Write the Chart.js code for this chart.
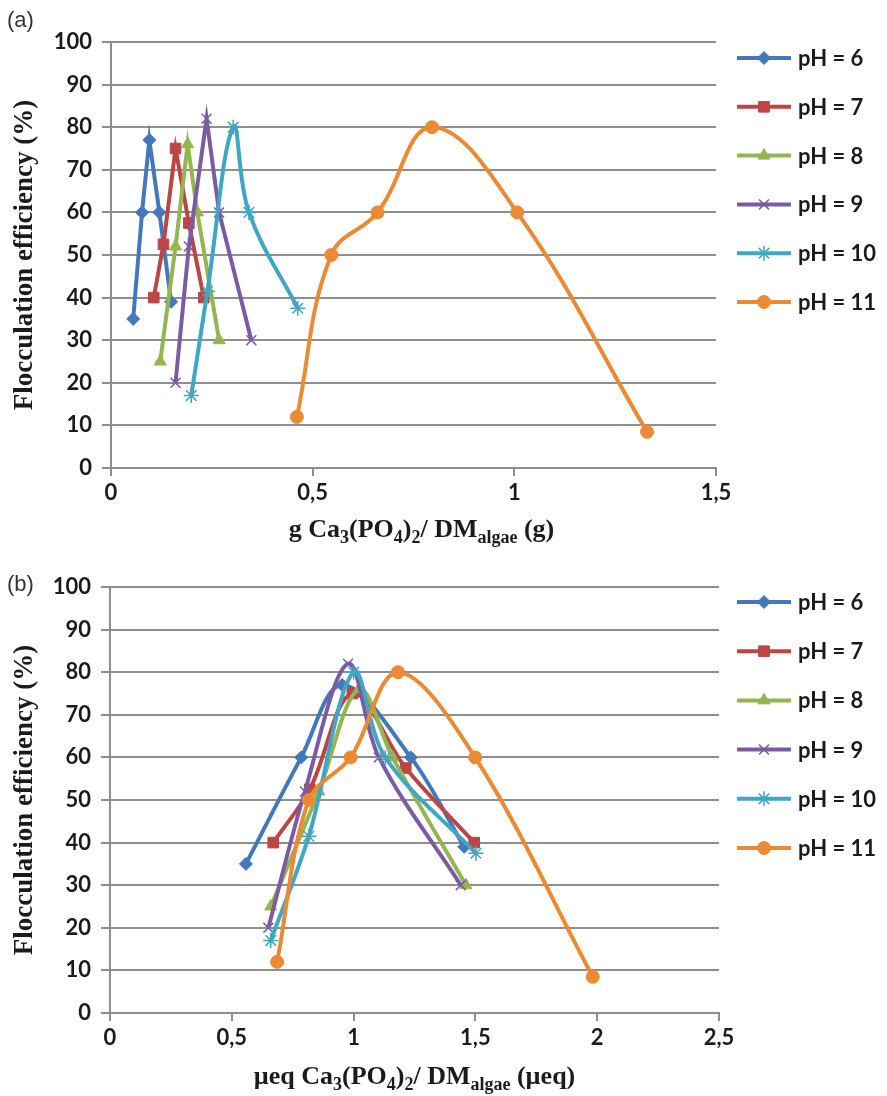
<!DOCTYPE html>
<html>
<head>
<meta charset="utf-8">
<title>Flocculation efficiency vs Ca3(PO4)2 dose</title>
<script src="https://cdn.jsdelivr.net/npm/chart.js@4.4.1/dist/chart.umd.min.js"></script>
<style>
  body { margin: 0; background: #fff; }
  .panel { position: absolute; left: 0; }
  #panelA { top: 0; }
  #panelB { top: 550px; }
</style>
</head>
<body>
<div class="panel" id="panelA"><canvas id="chartA" width="887" height="550"></canvas></div>
<div class="panel" id="panelB"><canvas id="chartB" width="887" height="546"></canvas></div>
<script>
// series names
const phLabels = ['pH = 6', 'pH = 7', 'pH = 8', 'pH = 9', 'pH = 10', 'pH = 11'];

// flocculation efficiency (%), same for both panels
const eff6 = [35, 60, 77, 60, 39];
const eff7 = [40, 52.5, 75, 57.5, 40];
const eff8 = [25, 52, 76, 60, 30];
const eff9 = [20, 52, 82, 60, 30];
const eff10 = [17, 41.5, 80, 60, 37.5];
const eff11 = [12, 50, 60, 80, 60, 8.5];

// panel (a): g Ca3(PO4)2 / g DM algae
const doseG6 = [0.055, 0.077, 0.095, 0.120, 0.149];
const doseG7 = [0.106, 0.130, 0.160, 0.193, 0.230];
const doseG8 = [0.122, 0.160, 0.190, 0.214, 0.268];
const doseG9 = [0.160, 0.193, 0.237, 0.268, 0.348];
const doseG10 = [0.199, 0.239, 0.303, 0.342, 0.463];
const doseG11 = [0.461, 0.546, 0.661, 0.796, 1.007, 1.329];

// panel (b): µeq Ca3(PO4)2 / µeq DM algae
const doseM6 = [0.558, 0.785, 0.953, 1.235, 1.454];
const doseM7 = [0.670, 0.820, 0.995, 1.214, 1.495];
const doseM8 = [0.660, 0.857, 1.022, 1.160, 1.461];
const doseM9 = [0.650, 0.800, 0.977, 1.104, 1.440];
const doseM10 = [0.660, 0.816, 1.000, 1.130, 1.502];
const doseM11 = [0.686, 0.816, 0.988, 1.182, 1.499, 1.982];

// axis ticks
const yTicks = [0, 10, 20, 30, 40, 50, 60, 70, 80, 90, 100];
const xTicksA = [0, 0.5, 1, 1.5];
const xTicksB = [0, 0.5, 1, 1.5, 2, 2.5];

// x axis titles, split into normal / subscript runs
const xTitleA = [['g Ca', 0], ['3', 1], ['(PO', 0], ['4', 1], [')', 0], ['2', 1], ['/ DM', 0], ['algae', 1], [' (g)', 0]];
const xTitleB = [['\u00b5eq Ca', 0], ['3', 1], ['(PO', 0], ['4', 1], [')', 0], ['2', 1], ['/ DM', 0], ['algae', 1], [' (\u00b5eq)', 0]];

const styles = [
  { color: '#4278BC', pointStyle: 'rectRot', radius: 6.5, bw: 1 },
  { color: '#BD4542', pointStyle: 'rect', radius: 7.5, bw: 1 },
  { color: '#93B650', pointStyle: 'triangle', radius: 7, bw: 1 },
  { color: '#7B5CA3', pointStyle: 'crossRot', radius: 7, bw: 1.5 },
  { color: '#3FA6C3', pointStyle: 'star', radius: 7.5, bw: 1.5 },
  { color: '#EC8A34', pointStyle: 'circle', radius: 6.5, bw: 1 }
];

const gridColor = '#8e8e8e';
const textColor = '#1b1b1b';
const tickFont = { family: 'Lato', weight: 'bold', size: 22 };

function pairs(xs, ys) {
  return xs.map((x, i) => ({ x: x, y: ys[i] }));
}

function makeDatasets(xSets, tensions) {
  const ySets = [eff6, eff7, eff8, eff9, eff10, eff11];
  return xSets.map((xs, i) => {
    const s = styles[i];
    return {
      label: phLabels[i],
      data: pairs(xs, ySets[i]),
      showLine: true,
      borderColor: s.color,
      backgroundColor: s.color,
      borderWidth: 4,
      tension: tensions[i],
      pointStyle: s.pointStyle,
      pointRadius: s.radius,
      pointBorderWidth: s.bw,
      pointBackgroundColor: s.color,
      pointBorderColor: s.color,
      order: 6 - i
    };
  });
}

// draws the panel letter, the subscripted x title and the legend
const panelDecor = {
  id: 'panelDecor',
  afterDraw(chart, args, opts) {
    const { ctx, chartArea } = chart;
    ctx.save();
    ctx.fillStyle = '#333';
    ctx.textBaseline = 'middle';
    ctx.textAlign = 'left';
    ctx.font = '22px "Liberation Sans"';
    ctx.fillText(opts.letter, 7, opts.letterY);

    // x title
    const big = 'bold 26px "Liberation Serif"';
    const small = 'bold 18px "Liberation Serif"';
    let total = 0;
    opts.xTitle.forEach(([t, sub]) => {
      ctx.font = sub ? small : big;
      total += ctx.measureText(t).width;
    });
    let x = (chartArea.left + chartArea.right) / 2 - total / 2 + opts.titleShift;
    const y = chartArea.bottom + opts.titleOffset;
    ctx.fillStyle = textColor;
    ctx.textBaseline = 'alphabetic';
    opts.xTitle.forEach(([t, sub]) => {
      ctx.font = sub ? small : big;
      ctx.fillText(t, x, y + (sub ? 6 : 0));
      x += ctx.measureText(t).width;
    });

    // legend
    ctx.textBaseline = 'middle';
    chart.data.datasets.forEach((ds, i) => {
      const ly = chartArea.top + opts.legendTop + i * opts.legendStep;
      ctx.strokeStyle = ds.borderColor;
      ctx.lineWidth = 4;
      ctx.beginPath();
      ctx.moveTo(737, ly);
      ctx.lineTo(791, ly);
      ctx.stroke();
      ctx.fillStyle = ds.pointBackgroundColor;
      ctx.lineWidth = ds.pointBorderWidth;
      if (Chart.helpers && Chart.helpers.drawPoint) {
        Chart.helpers.drawPoint(ctx, { pointStyle: ds.pointStyle, radius: ds.pointRadius, rotation: 0, borderWidth: ds.pointBorderWidth }, 764, ly);
      } else {
        ctx.beginPath();
        ctx.arc(764, ly, ds.pointRadius, 0, Math.PI * 2);
        ctx.fill();
      }
      ctx.fillStyle = textColor;
      ctx.font = 'bold 22px Lato';
      ctx.fillText(ds.label, 798, ly + 1);
    });
    ctx.restore();
  }
};

function makeChart(id, datasets, xMax, xTicks, size, decor) {
  return new Chart(document.getElementById(id), {
    type: 'scatter',
    data: { datasets: datasets },
    plugins: [panelDecor],
    options: {
      responsive: false,
      animation: false,
      layout: { padding: { top: size.top, right: size.right, left: 0, bottom: 0 } },
      plugins: {
        legend: { display: false },
        tooltip: { enabled: false },
        panelDecor: decor
      },
      scales: {
        x: {
          type: 'linear',
          min: 0,
          max: xMax,
          afterBuildTicks: (scale) => { scale.ticks = xTicks.map(v => ({ value: v })); },
          afterFit: (scale) => { scale.height = size.xHeight; },
          ticks: {
            color: textColor,
            font: tickFont,
            padding: 4,
            callback: (v) => String(v).replace('.', ',')
          },
          grid: { drawOnChartArea: false, color: gridColor, lineWidth: 2, tickLength: 8 },
          border: { color: gridColor, width: 2 }
        },
        y: {
          min: 0,
          max: 100,
          afterBuildTicks: (scale) => { scale.ticks = yTicks.map(v => ({ value: v })); },
          afterFit: (scale) => { scale.width = size.left; },
          ticks: { color: textColor, font: tickFont, padding: 10 },
          grid: { color: gridColor, lineWidth: 2, tickLength: 9 },
          border: { color: gridColor, width: 2 },
          title: {
            display: true,
            text: 'Flocculation efficiency (%)',
            color: textColor,
            font: { family: 'Liberation Serif', weight: 'bold', size: 27 },
            padding: { top: 9, bottom: 0 }
          }
        }
      }
    }
  });
}

makeChart('chartA',
  makeDatasets([doseG6, doseG7, doseG8, doseG9, doseG10, doseG11], [0, 0, 0, 0, 0.4, 0.4]),
  1.5, xTicksA,
  { top: 42, right: 171, left: 111, xHeight: 82 },
  { letter: '(a)', letterY: 21, xTitle: xTitleA, titleOffset: 69, titleShift: 8, legendTop: 16, legendStep: 48.8 });

makeChart('chartB',
  makeDatasets([doseM6, doseM7, doseM8, doseM9, doseM10, doseM11], [0.35, 0.35, 0.35, 0.35, 0.35, 0.35]),
  2.5, xTicksB,
  { top: 37, right: 168, left: 110, xHeight: 83 },
  { letter: '(b)', letterY: 35, xTitle: xTitleB, titleOffset: 71, titleShift: 0, legendTop: 15, legendStep: 49.2 });
</script>
</body>
</html>
